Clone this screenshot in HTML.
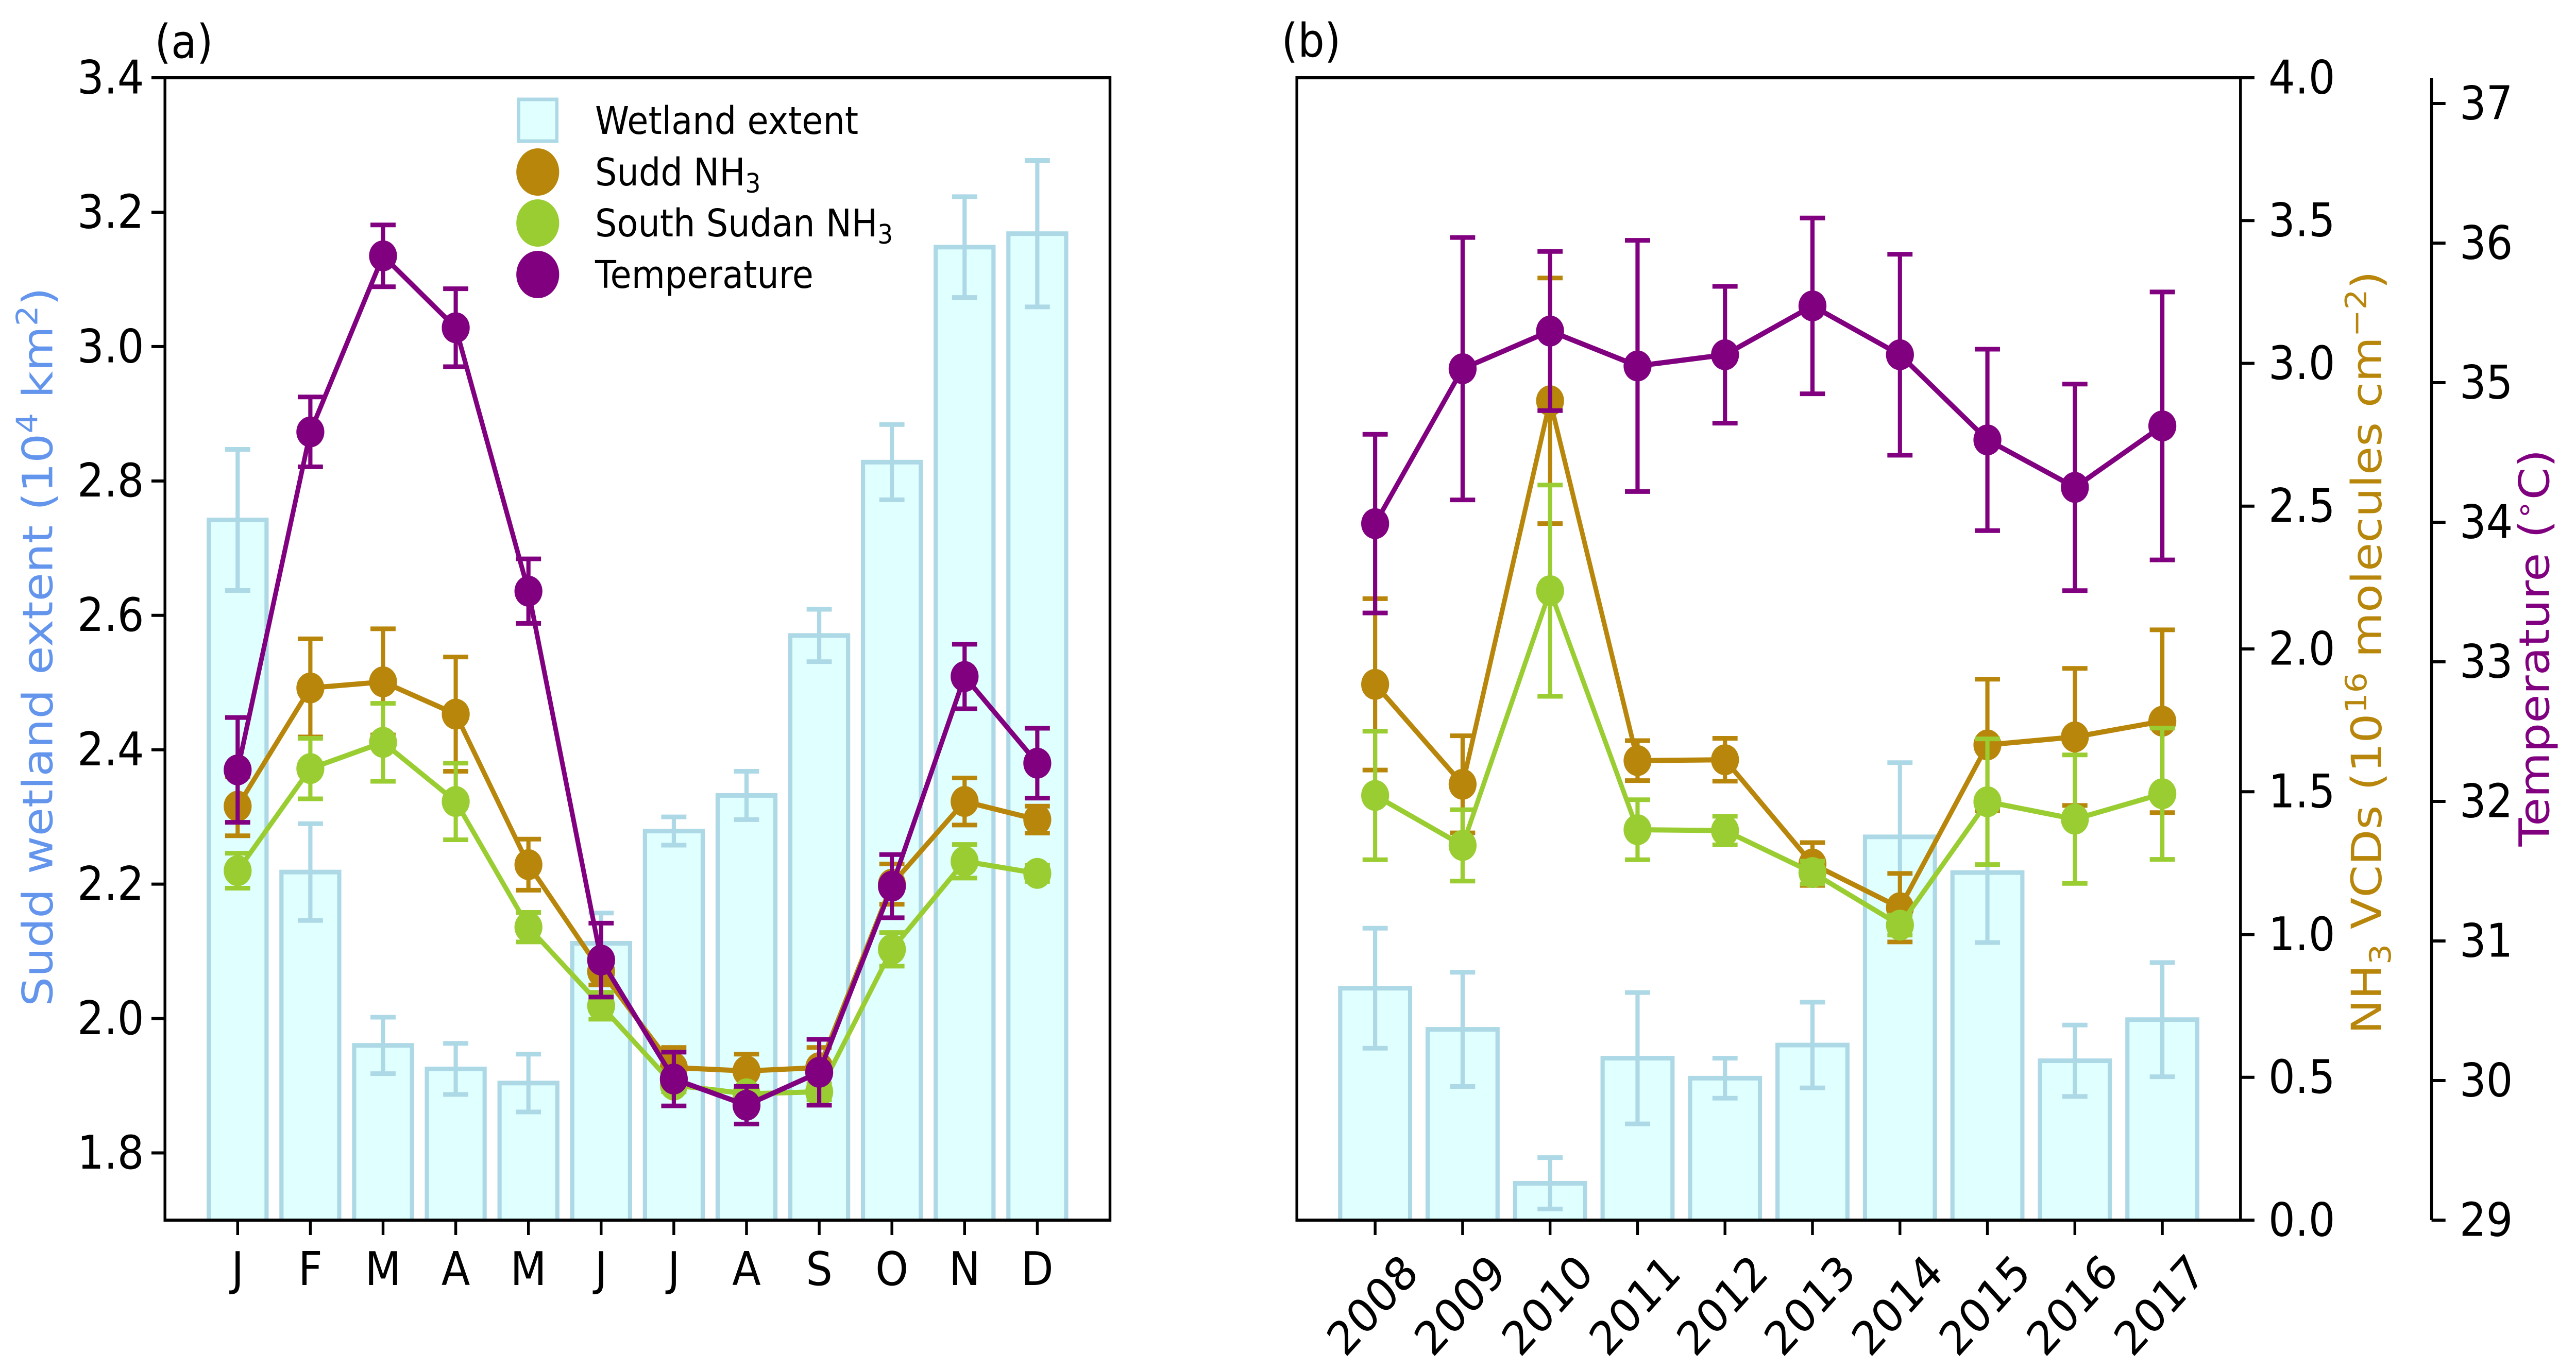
<!DOCTYPE html>
<html><head><meta charset="utf-8"><style>
html,body{margin:0;padding:0;background:#fff;width:100vw;height:100vh;overflow:hidden}
svg{display:block;width:100vw;height:100vh;overflow:hidden;font-family:"DejaVu Sans","Liberation Sans",sans-serif}
</style></head><body>
<svg id="chart" xmlns="http://www.w3.org/2000/svg" viewBox="0 0 5528 2660" preserveAspectRatio="none"></svg>
<script>
// ---- Panel (a) data ----
const months = ["J","F","M","A","M","J","J","A","S","O","N","D"];
const wetlandMonthly = [2.742,2.218,1.960,1.925,1.904,2.112,2.279,2.332,2.570,2.828,3.148,3.168];
const wetlandMonthlyErr = [0.105,0.072,0.042,0.038,0.043,0.045,0.021,0.036,0.039,0.056,0.075,0.109];
const suddMonthly = [2.316,2.492,2.501,2.453,2.229,2.070,1.927,1.922,1.927,2.200,2.323,2.296];
const suddMonthlyErr = [0.044,0.073,0.079,0.085,0.038,0.020,0.030,0.025,0.030,0.030,0.035,0.020];
const southMonthly = [2.220,2.372,2.411,2.323,2.136,2.019,1.901,1.888,1.891,2.103,2.234,2.216];
const southMonthlyErr = [0.026,0.045,0.058,0.057,0.022,0.020,0.010,0.010,0.012,0.025,0.025,0.012];
const tempMonthly = [2.370,2.873,3.135,3.028,2.636,2.087,1.910,1.871,1.920,2.197,2.509,2.380];
const tempMonthlyErr = [0.078,0.052,0.046,0.058,0.048,0.055,0.040,0.028,0.049,0.047,0.048,0.052];
const aTicks = [1.8,2.0,2.2,2.4,2.6,2.8,3.0,3.2,3.4];
const aTickLabels = ["1.8","2.0","2.2","2.4","2.6","2.8","3.0","3.2","3.4"];
// ---- Panel (b) data ----
const years = ["2008","2009","2010","2011","2012","2013","2014","2015","2016","2017"];
const wetlandYearly = [0.812,0.668,0.129,0.567,0.497,0.613,1.342,1.217,0.558,0.702];
const wetlandYearlyErr = [0.21,0.20,0.09,0.23,0.07,0.15,0.26,0.245,0.125,0.20];
const suddYearly = [1.876,1.526,2.869,1.609,1.612,1.247,1.094,1.664,1.692,1.747];
const suddYearlyErr = [0.30,0.17,0.43,0.07,0.075,0.075,0.12,0.23,0.24,0.32];
const southYearly = [1.487,1.312,2.204,1.367,1.364,1.217,1.033,1.465,1.404,1.493];
const southYearlyErr = [0.225,0.125,0.37,0.105,0.05,0.04,0.035,0.22,0.225,0.23];
const tempYearly = [33.99,35.10,35.37,35.12,35.20,35.55,35.20,34.59,34.25,34.69];
const tempYearlyErr = [0.64,0.94,0.57,0.90,0.49,0.63,0.72,0.65,0.74,0.96];
const nh3Ticks = [0,0.5,1.0,1.5,2.0,2.5,3.0,3.5,4.0];
const nh3TickLabels = ["0.0","0.5","1.0","1.5","2.0","2.5","3.0","3.5","4.0"];
const tTicks = [29,30,31,32,33,34,35,36,37];
const tTickLabels = ["29","30","31","32","33","34","35","36","37"];

const NS="http://www.w3.org/2000/svg";
const svg=document.getElementById('chart');
function mk(tag,attrs,parent){const e=document.createElementNS(NS,tag);for(const k in attrs)e.setAttribute(k,attrs[k]);(parent||svg).appendChild(e);return e;}
const BLUE="#ADD8E6",CYAN="#E0FFFF",BROWN="#B8860B",GREEN="#9ACD32",PURPLE="#800080";

const TOP=151,BOT=2369;
const aL=354,aR=2382;
const ax=i=>aL+(i+1)*156;
const ay=v=>BOT-(v-1.7)/(3.4-1.7)*(BOT-TOP);
const bL=2783,bR=4808;
const bx=i=>2951+i*187.7;
const by=v=>BOT-v/4.0*(BOT-TOP);
const ty=v=>BOT-(v-29)*271;

function drawBars(g,vals,errs,xf,yf,w,base,name){
  vals.forEach((v,i)=>{
    const x=xf(i),y=yf(v);
    const r=mk('rect',{x:x-w/2,y:y,width:w,height:base-y,fill:CYAN,stroke:BLUE,'stroke-width':9},g);
    
    
  });
  vals.forEach((v,i)=>{
    const x=xf(i),y1=yf(v+errs[i]),y2=yf(v-errs[i]);
    const e=mk('path',{d:`M${x},${y1}V${y2}M${x-27},${y1}H${x+27}M${x-27},${y2}H${x+27}`,stroke:BLUE,'stroke-width':9,fill:'none'},g);
    
    
  });
}
function drawSeries(g,vals,errs,xf,yf,color,name){
  vals.forEach((v,i)=>{
    const x=xf(i),y1=yf(v+errs[i]),y2=yf(v-errs[i]);
    const e=mk('path',{d:`M${x},${y1}V${y2}M${x-27},${y1}H${x+27}M${x-27},${y2}H${x+27}`,stroke:color,'stroke-width':9,fill:'none'},g);
    
    
  });
  const pts=vals.map((v,i)=>xf(i)+','+yf(v)).join(' ');
  const l=mk('polyline',{points:pts,fill:'none',stroke:color,'stroke-width':10,'stroke-linejoin':'round'},g);
  
  
  vals.forEach((v,i)=>{
    const c=mk('circle',{cx:xf(i),cy:yf(v),r:30,fill:color},g);
    
    
  });
}
function txt(x,y,s,attrs,name,parent){
  const t=mk('text',Object.assign({x:x,y:y,'font-size':90,fill:'#000'},attrs||{}),parent);
  t.innerHTML=s;
  
  
  return t;
}

// ----- Panel a -----
const clipA=mk('clipPath',{id:'ca'});mk('rect',{x:aL,y:TOP,width:aR-aL,height:BOT-TOP},clipA);
const gA=mk('g',{'clip-path':'url(#ca)'});


drawBars(gA,wetlandMonthly,wetlandMonthlyErr,ax,ay,124,BOT+10,'wetland-monthly');
drawSeries(gA,suddMonthly,suddMonthlyErr,ax,ay,BROWN,'sudd-nh3-monthly');
drawSeries(gA,southMonthly,southMonthlyErr,ax,ay,GREEN,'south-sudan-nh3-monthly');
drawSeries(gA,tempMonthly,tempMonthlyErr,ax,ay,PURPLE,'temperature-monthly');
const fa=mk('rect',{x:aL,y:TOP,width:aR-aL,height:BOT-TOP,fill:'none',stroke:'#000','stroke-width':6});

aTicks.forEach((v,i)=>{
  const y=ay(v);
  mk('line',{x1:aL-29,x2:aL,y1:y,y2:y,stroke:'#000','stroke-width':6});
  txt(aL-45,y,aTickLabels[i],{'text-anchor':'end','dominant-baseline':'central'},'y-tick-label');
});
months.forEach((m,i)=>{
  const x=ax(i);
  mk('line',{x1:x,x2:x,y1:BOT,y2:BOT+29,stroke:'#000','stroke-width':6});
  txt(x,2495,m,{'text-anchor':'middle'},'x-tick-label');
});
txt(0,0,'Sudd wetland extent (10<tspan font-size="63" dy="-32">4</tspan><tspan dy="32"> km</tspan><tspan font-size="63" dy="-32">2</tspan><tspan dy="32">)</tspan>',
  {transform:'translate(112,1256) rotate(-90)','text-anchor':'middle',fill:'#6495ED'},'y-axis-title-wetland');
txt(332,112,'(a)',{},'panel-a-label');
// legend
const lg=mk('g',{});

const ls=mk('rect',{x:1113,y:193,width:82,height:81,fill:CYAN,stroke:BLUE,'stroke-width':7},lg);

[[BROWN,334],[GREEN,433],[PURPLE,533]].forEach(([c,y])=>{
  const m=mk('circle',{cx:1154,cy:y,r:46,fill:c},lg);
  
});
[['Wetland extent',234],['Sudd NH<tspan font-size="52" dy="14">3</tspan>',334],['South Sudan NH<tspan font-size="52" dy="14">3</tspan>',433],['Temperature',533]].forEach(([s,y])=>{
  txt(1277,y+26,s,{'font-size':74},'legend-entry',lg);
});

// ----- Panel b -----
const clipB=mk('clipPath',{id:'cb'});mk('rect',{x:bL,y:TOP,width:bR-bL,height:BOT-TOP},clipB);
const gB=mk('g',{'clip-path':'url(#cb)'});


drawBars(gB,wetlandYearly,wetlandYearlyErr,bx,by,150,BOT+10,'wetland-yearly');
drawSeries(gB,suddYearly,suddYearlyErr,bx,by,BROWN,'sudd-nh3-yearly');
drawSeries(gB,southYearly,southYearlyErr,bx,by,GREEN,'south-sudan-nh3-yearly');
drawSeries(gB,tempYearly,tempYearlyErr,bx,ty,PURPLE,'temperature-yearly');
const fb=mk('rect',{x:bL,y:TOP,width:bR-bL,height:BOT-TOP,fill:'none',stroke:'#000','stroke-width':6});

nh3Ticks.forEach((v,i)=>{
  const y=by(v);
  mk('line',{x1:bR,x2:bR+30,y1:y,y2:y,stroke:'#000','stroke-width':6});
  txt(bR+60,y,nh3TickLabels[i],{'dominant-baseline':'central'},'nh3-tick-label');
});
years.forEach((yr,i)=>{
  const x=bx(i);
  mk('line',{x1:x,x2:x,y1:BOT,y2:BOT+29,stroke:'#000','stroke-width':6});
  txt(0,0,yr,{transform:`translate(${x-5},2535) rotate(-45)`,'text-anchor':'middle','dominant-baseline':'central'},'year-tick-label');
});
const ts=mk('line',{x1:5218,x2:5218,y1:TOP,y2:BOT,stroke:'#000','stroke-width':6});

tTicks.forEach((v,i)=>{
  const y=ty(v);
  mk('line',{x1:5218,x2:5248,y1:y,y2:y,stroke:'#000','stroke-width':6});
  txt(5278,y,tTickLabels[i],{'dominant-baseline':'central'},'temperature-tick-label');
});
txt(0,0,'NH<tspan font-size="63" dy="20">3</tspan><tspan dy="-20"> VCDs (10</tspan><tspan font-size="63" dy="-32">16</tspan><tspan dy="32"> molecules cm</tspan><tspan font-size="63" dy="-32">−2</tspan><tspan dy="32">)</tspan>',
  {transform:'translate(5110,1267) rotate(-90)','text-anchor':'middle',fill:BROWN},'y-axis-title-nh3');
txt(0,0,'Temperature (<tspan font-size="63" dy="-32">∘</tspan><tspan dy="32">C)</tspan>',
  {transform:'translate(5470,1258) rotate(-90)','text-anchor':'middle',fill:PURPLE},'y-axis-title-temperature');
txt(2750,110,'(b)',{},'panel-b-label');
</script>
</body></html>
